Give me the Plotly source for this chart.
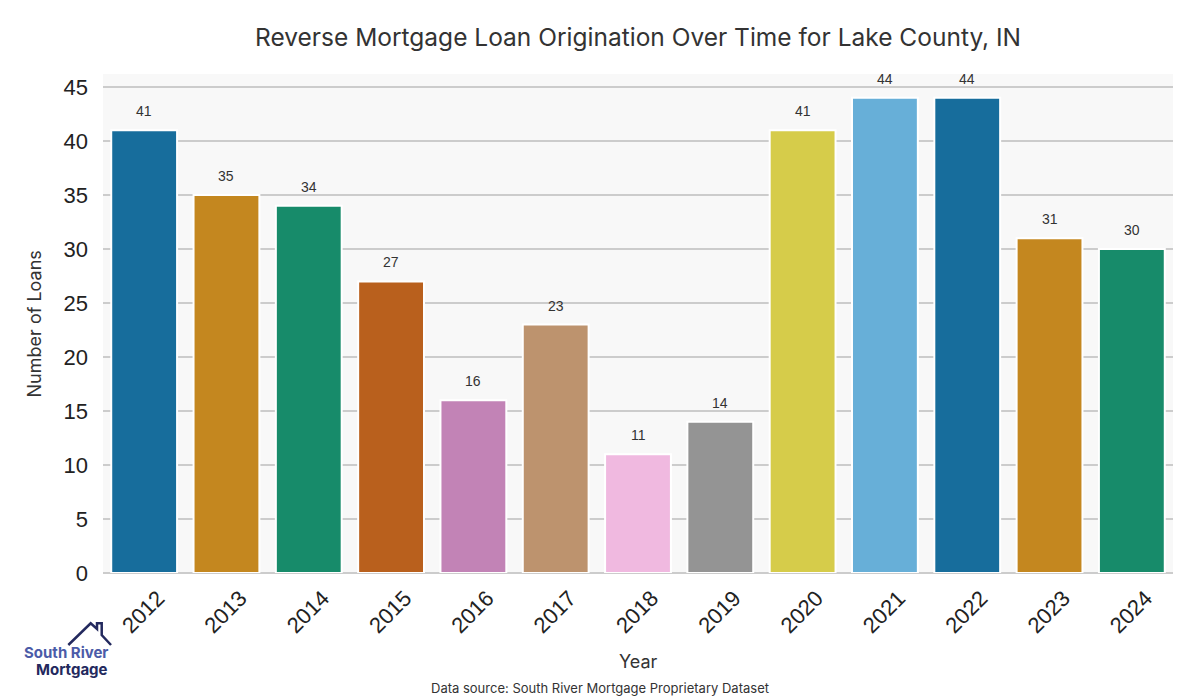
import plotly.graph_objects as go

years = ["2012", "2013", "2014", "2015", "2016", "2017", "2018", "2019",
         "2020", "2021", "2022", "2023", "2024"]
loans = [41, 35, 34, 27, 16, 23, 11, 14, 41, 44, 44, 31, 30]
palette = ["#176d9c", "#c4871f", "#178b6a", "#b9601d", "#c283b6", "#bd936e",
           "#f0b9e0", "#949494", "#d6cc4a", "#67afd8", "#176d9c", "#c4871f", "#178b6a"]
y_ticks = [0, 5, 10, 15, 20, 25, 30, 35, 40, 45]

fig = go.Figure()
fig.add_trace(go.Bar(
    x=years, y=loans,
    marker=dict(color=palette, line=dict(color="white", width=2)),
    width=0.8, showlegend=False, hoverinfo="x+y",
))

for i, v in enumerate(loans):
    fig.add_annotation(x=i, y=v, text=str(v), showarrow=False, yshift=19,
                       font=dict(family="Liberation Sans, Arial", size=14, color="#333333"))

# Logo
fig.add_shape(type="path", xref="paper", yref="paper",
              path="M -0.0324,-0.1443 L -0.0115,-0.1008 L -0.0056,-0.1122 L -0.0056,-0.1008 "
                   "L -0.0012,-0.1008 L -0.0012,-0.1242 L 0.0075,-0.1443",
              line=dict(color="#23295e", width=2.5))
fig.add_annotation(xref="paper", yref="paper", x=0.0065, y=-0.159, xanchor="right", yanchor="middle",
                   text="<b>South River</b>", showarrow=False,
                   font=dict(family="Inter, Lato, sans-serif", size=15, color="#4b5ba8"))
fig.add_annotation(xref="paper", yref="paper", x=0.0065, y=-0.194, xanchor="right", yanchor="middle",
                   text="<b>Mortgage</b>", showarrow=False,
                   font=dict(family="Inter, Lato, sans-serif", size=15, color="#23295e"))
fig.add_annotation(xref="paper", yref="paper", x=0.4645, y=-0.231, xanchor="center", yanchor="middle",
                   text="Data source: South River Mortgage Proprietary Dataset", showarrow=False,
                   font=dict(family="Inter, Lato, sans-serif", size=13, color="#333333"))
fig.add_annotation(xref="paper", yref="paper", x=0.5, y=-0.177, xanchor="center", yanchor="middle",
                   text="Year", showarrow=False,
                   font=dict(family="Inter, Lato, sans-serif", size=18, color="#333333"))
fig.add_annotation(xref="paper", yref="paper", x=-0.0636, y=0.5, xanchor="center", yanchor="middle",
                   text="Number of Loans", showarrow=False, textangle=-90,
                   font=dict(family="Inter, Lato, sans-serif", size=18, color="#333333"))

fig.update_layout(
    width=1200, height=700,
    margin=dict(l=103, r=27, t=74, b=127, autoexpand=False),
    paper_bgcolor="white", plot_bgcolor="#f8f8f8",
    title=dict(text="Reverse Mortgage Loan Origination Over Time for Lake County, IN",
               x=0.5317, xanchor="center", y=0.946, yanchor="middle",
               font=dict(family="Inter, Lato, sans-serif", size=24.5, color="#333333")),
    bargap=0.2,
)
fig.update_xaxes(
    type="category", automargin=False,
    tickangle=-45, ticklabelshift=14, ticklabelstandoff=7,
    tickfont=dict(family="Liberation Sans, Arial", size=22, color="#222222"),
    showgrid=False, range=[-0.5, 12.5], showline=False,
)
fig.update_yaxes(
    automargin=False,
    range=[0, 46.2], tickvals=y_ticks, ticklabelstandoff=14,
    tickfont=dict(family="Liberation Sans, Arial", size=22, color="#222222"),
    showgrid=True, gridcolor="#cccccc", gridwidth=2,
    zeroline=True, zerolinecolor="#cccccc", zerolinewidth=2, showline=False,
)

fig.write_html("out.html", config={"displayModeBar": False},
               post_script="document.body.style.margin='0';document.body.style.overflow='hidden';")
